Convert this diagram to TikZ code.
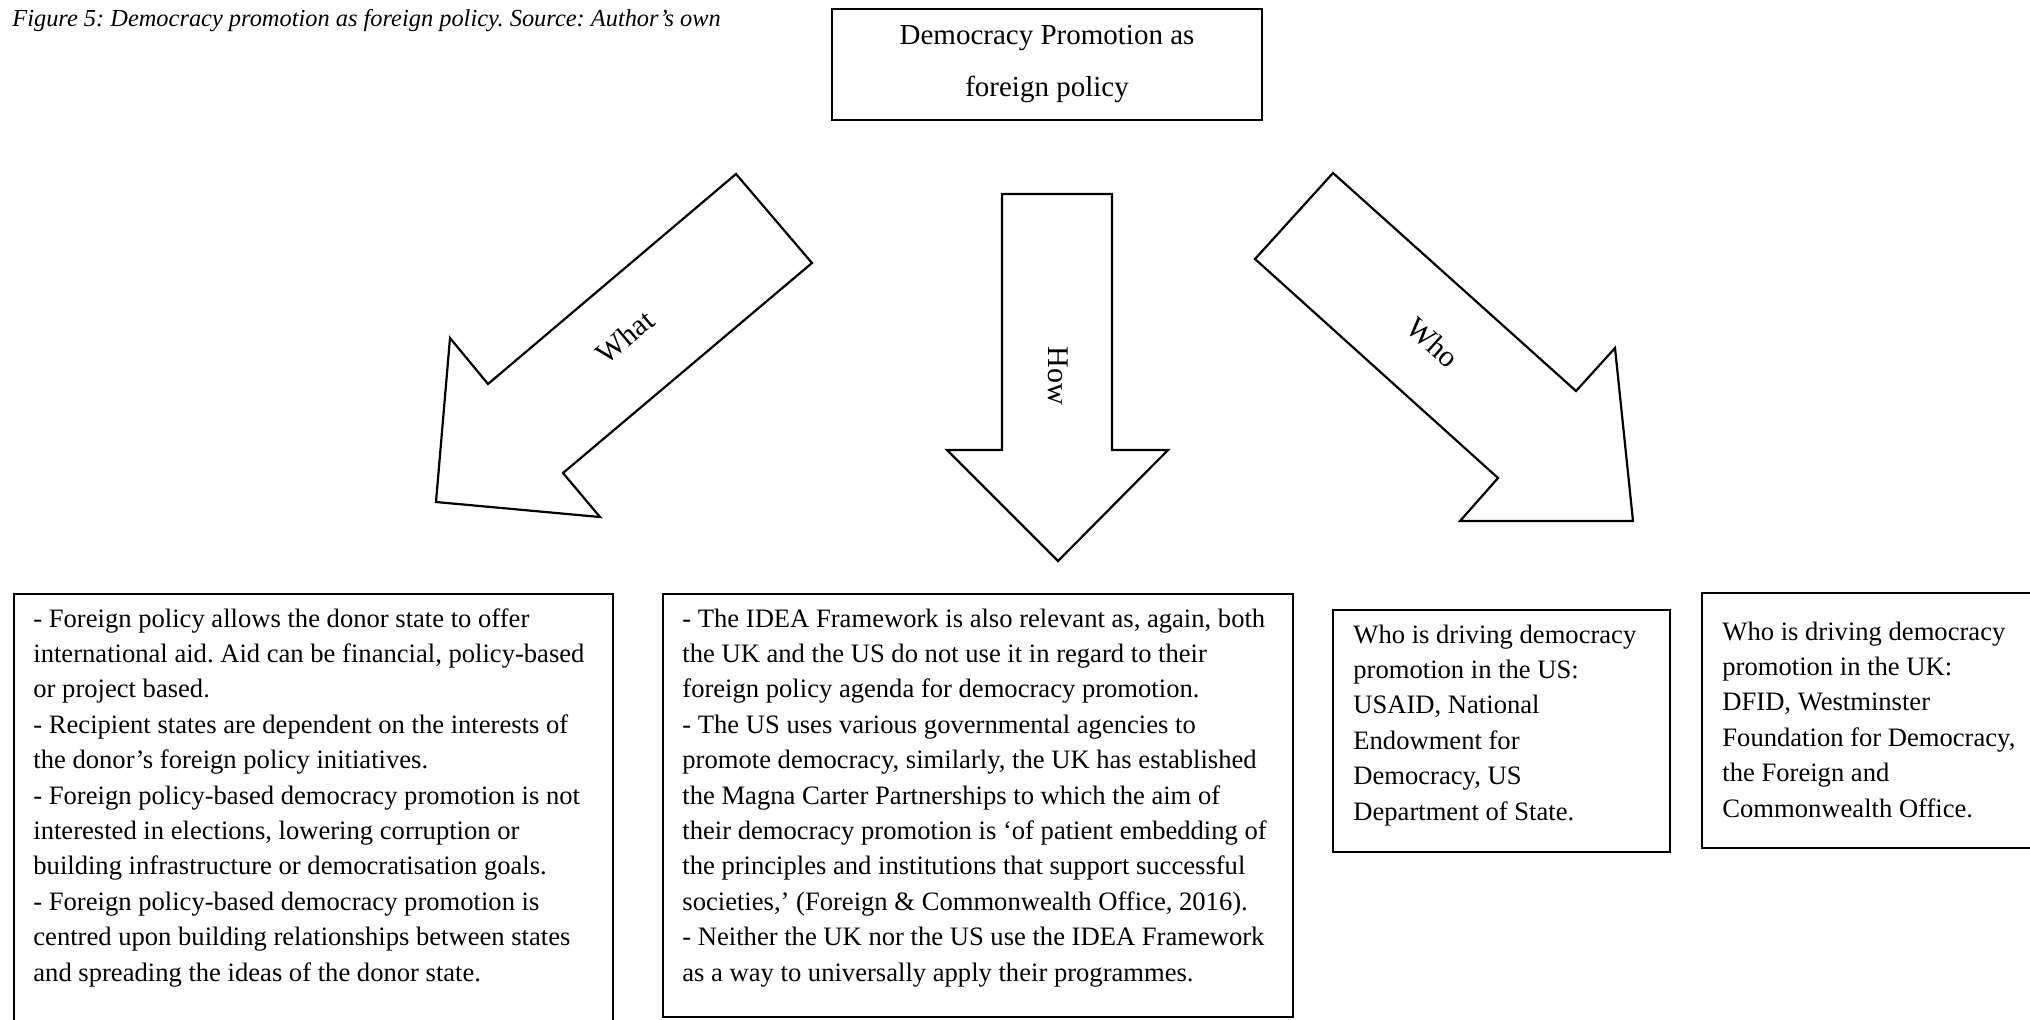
\documentclass[tikz,border=0pt]{standalone}
\usepackage{fontspec}
\setmainfont{Liberation Serif}[Ligatures={TeX,NoCommon}]
\frenchspacing
\begin{document}
\begin{tikzpicture}[x=0.5pt,y=-0.5pt,
  frame/.style={draw, line width=1.1pt, inner sep=0pt, anchor=north west},
  blockarrow/.style={draw, line width=1.1pt, line join=miter},
  bodytext/.style={inner sep=0pt, anchor=base west, font=\fontsize{13.3}{17.7}\selectfont},
  arrowlabel/.style={inner sep=0pt, font=\fontsize{15}{16}\selectfont},
]
% page area
\clip (0,0) rectangle (2030,1019);
\fill[white] (0,0) rectangle (2030,1019);

% caption
\node[inner sep=0pt, anchor=base west, font=\fontsize{12.2}{14}\selectfont\itshape] (caption) at (12,26)
  {Figure 5: Democracy promotion as foreign policy. Source: Author’s own};

% central topic
\node[frame, anchor=center, minimum width=215pt, minimum height=55.5pt, align=center,
      font=\fontsize{14.5}{26}\selectfont] (topic) at (1047,64.5)
  {Democracy Promotion as\\foreign policy};

% block arrows
\draw[blockarrow] (736,174) -- (812,263) -- (563,473) -- (600,517) -- (436,502) -- (450,338) -- (488,384) -- cycle;
\node[arrowlabel, rotate=40] (what) at (625,337) {What};

\draw[blockarrow] (1002,194) -- (1112,194) -- (1112,450) -- (1168,450) -- (1058,561) -- (947,450) -- (1002,450) -- cycle;
\node[arrowlabel, rotate=-90] (how) at (1058,376) {How};

\draw[blockarrow] (1333,173) -- (1576,391) -- (1615,348) -- (1633,521) -- (1460,521) -- (1498,478) -- (1255,259) -- cycle;
\node[arrowlabel, rotate=-42] (who) at (1433,342) {Who};

% "what" box
\node[frame, minimum width=299.5pt, minimum height=235pt] (whatbox) at (13,593) {};
\node[bodytext] (whattext) at (33,627) {\parbox[t]{360pt}{%
- Foreign policy allows the donor state to offer\\
international aid. Aid can be financial, policy-based\\
or project based.\\
- Recipient states are dependent on the interests of\\
the donor’s foreign policy initiatives.\\
- Foreign policy-based democracy promotion is not\\
interested in elections, lowering corruption or\\
building infrastructure or democratisation goals.\\
- Foreign policy-based democracy promotion is\\
centred upon building relationships between states\\
and spreading the ideas of the donor state.}};

% "how" box
\node[frame, minimum width=315pt, minimum height=211.5pt] (howbox) at (662,593) {};
\node[bodytext] (howtext) at (682,627) {\parbox[t]{360pt}{%
- The IDEA Framework is also relevant as, again, both\\
the UK and the US do not use it in regard to their\\
foreign policy agenda for democracy promotion.\\
- The US uses various governmental agencies to\\
promote democracy, similarly, the UK has established\\
the Magna Carter Partnerships to which the aim of\\
their democracy promotion is ‘of patient embedding of\\
the principles and institutions that support successful\\
societies,’ (Foreign \& Commonwealth Office, 2016).\\
- Neither the UK nor the US use the IDEA Framework\\
as a way to universally apply their programmes.}};

% "who" boxes
\node[frame, minimum width=168.5pt, minimum height=121pt] (usbox) at (1332,609) {};
\node[bodytext] (ustext) at (1353,643) {\parbox[t]{200pt}{%
Who is driving democracy\\
promotion in the US:\\
USAID, National\\
Endowment for\\
Democracy, US\\
Department of State.}};

\node[frame, minimum width=200pt, minimum height=127.5pt] (ukbox) at (1701,592) {};
\node[bodytext] (uktext) at (1722,640) {\parbox[t]{200pt}{%
Who is driving democracy\\
promotion in the UK:\\
DFID, Westminster\\
Foundation for Democracy,\\
the Foreign and\\
Commonwealth Office.}};
\end{tikzpicture}
\end{document}
